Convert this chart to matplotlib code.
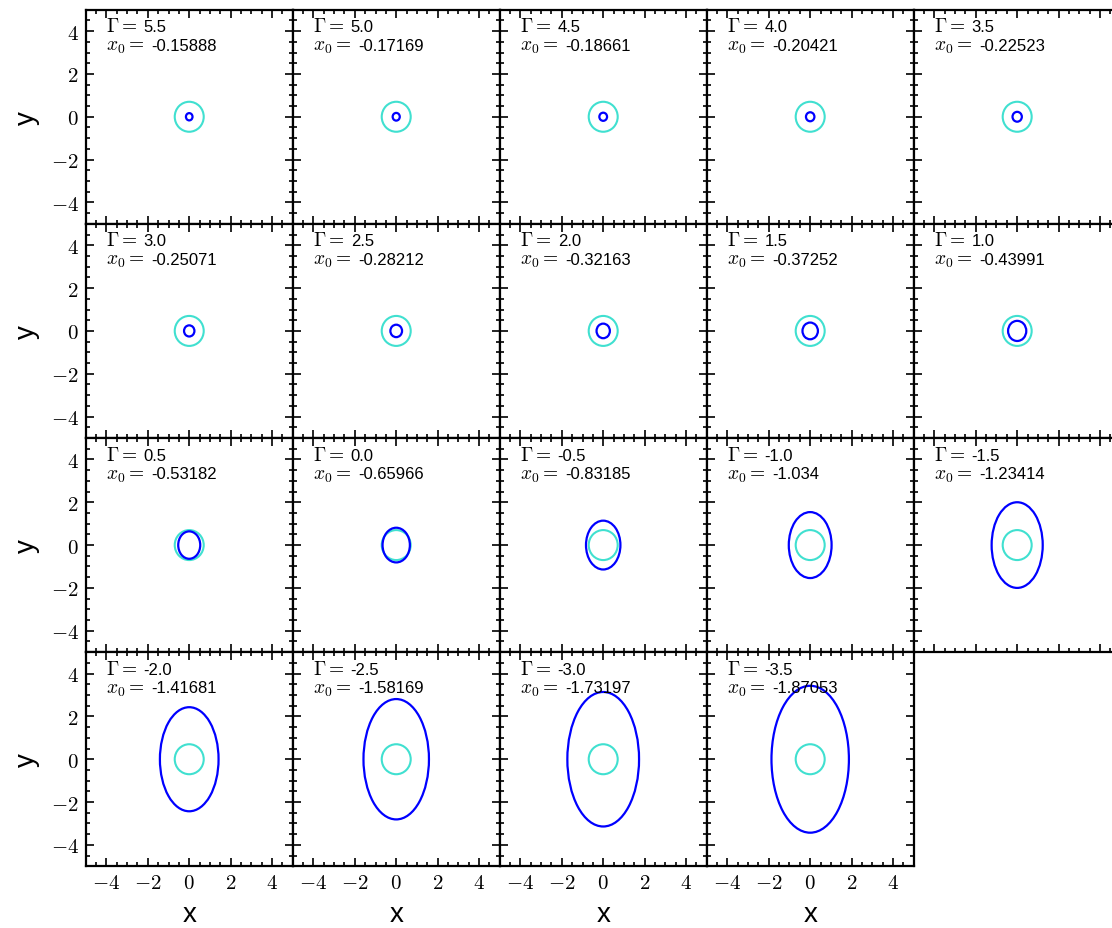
import numpy as np
import matplotlib
matplotlib.use('Agg')
import matplotlib.pyplot as plt
from matplotlib.patches import Ellipse, Circle
from matplotlib.ticker import MultipleLocator, FuncFormatter

plt.rcParams['font.family'] = ['Liberation Sans', 'DejaVu Sans']
plt.rcParams['mathtext.fontset'] = 'cm'

# panel values
gammas = ['5.5', '5.0', '4.5', '4.0', '3.5', '3.0', '2.5', '2.0', '1.5', '1.0',
          '0.5', '0.0', '-0.5', '-1.0', '-1.5', '-2.0', '-2.5', '-3.0', '-3.5']
x0_labels = ['-0.15888', '-0.17169', '-0.18661', '-0.20421', '-0.22523',
             '-0.25071', '-0.28212', '-0.32163', '-0.37252', '-0.43991',
             '-0.53182', '-0.65966', '-0.83185', '-1.034', '-1.23414',
             '-1.41681', '-1.58169', '-1.73197', '-1.87053']
x0 = [float(s) for s in x0_labels]
# half height of the blue orbit (estimated)
y_max = [0.17, 0.18, 0.19, 0.21, 0.23, 0.26, 0.29, 0.34, 0.39, 0.47,
         0.64, 0.81, 1.14, 1.54, 2.00, 2.43, 2.81, 3.14, 3.43]
r_ring = 0.7

fig, axes = plt.subplots(4, 5, sharex=True, sharey=True, figsize=(11.12, 9.29), dpi=100,
                         gridspec_kw=dict(left=0.0771, right=1.0078, top=0.9885,
                                          bottom=0.0664, wspace=0, hspace=0))
fig.delaxes(axes[3, 4])

fmt = FuncFormatter(lambda v, p: r'$%d$' % round(v))

for i in range(len(gammas)):
    ax = axes.flat[i]
    ax.add_patch(Circle((0, 0), r_ring, fill=False, ec='#40E0D0', lw=1.5))
    ax.add_patch(Ellipse((0, 0), 2 * abs(x0[i]), 2 * y_max[i], fill=False, ec='b', lw=1.6))
    # label: math part in cm, number in sans
    ax.text(0.1, 0.899, r'$\Gamma=$', transform=ax.transAxes, fontsize=14, va='baseline')
    ax.text(0.28, 0.899, gammas[i], transform=ax.transAxes, fontsize=12, va='baseline')
    ax.text(0.1, 0.812, r'$x_0=$', transform=ax.transAxes, fontsize=14, va='baseline')
    ax.text(0.316, 0.812, x0_labels[i], transform=ax.transAxes, fontsize=12, va='baseline')
    ax.set_xlim(-5, 5)
    ax.set_ylim(-5, 5)
    ax.xaxis.set_major_locator(MultipleLocator(2))
    ax.yaxis.set_major_locator(MultipleLocator(2))
    ax.xaxis.set_minor_locator(MultipleLocator(0.5))
    ax.yaxis.set_minor_locator(MultipleLocator(0.5))
    ax.xaxis.set_major_formatter(fmt)
    ax.yaxis.set_major_formatter(fmt)
    ax.tick_params(which='both', direction='in', top=True, right=True, width=1.2, labelsize=15)
    ax.tick_params(which='major', length=6, pad=5)
    ax.tick_params(which='minor', length=3.2)
    for s in ax.spines.values():
        s.set_linewidth(1.6)
    if i % 5 == 0:
        ax.set_ylabel('y', fontsize=20, labelpad=8)
    if i >= 15:
        ax.set_xlabel('x', fontsize=20, labelpad=6)

plt.savefig('out.png', dpi=100)
